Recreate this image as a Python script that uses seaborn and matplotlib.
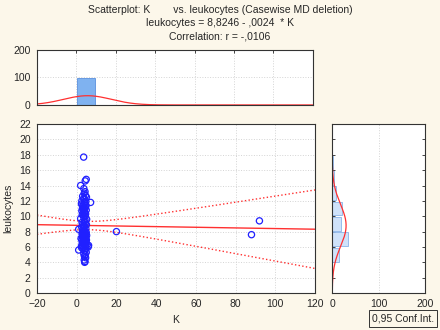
import numpy as np
import pandas as pd
from matplotlib import pyplot as plt
import seaborn as sns

# leukocytes values grouped by band, with the matching K values
leuk = [4.0, 4.1, 4.3, 4.6, 4.8, 5.0, 5.1, 5.3, 5.5, 5.6, 5.7, 5.8, 5.9, 5.95,
        6.0, 6.1, 6.1, 6.2, 6.2, 6.3, 6.4, 6.5, 6.5, 6.6, 6.7, 6.8, 6.9, 6.9, 7.0, 7.0,
        7.1, 7.2, 7.2, 7.3, 7.4, 7.4, 7.5, 7.5, 7.6, 7.7, 7.7, 7.8, 7.8, 7.9, 7.9, 6.3,
        8.0, 8.1, 8.2, 8.3, 8.4, 8.5, 8.6, 8.7, 8.8, 8.9, 9.0, 9.1, 9.2, 9.3, 9.5, 9.6, 9.7, 9.9,
        10.0, 10.1, 10.2, 10.3, 10.4, 10.5, 10.6, 10.7, 10.8, 10.9, 11.0, 11.0, 11.1, 11.2,
        11.3, 11.4, 11.5, 11.6, 11.7, 11.8, 11.8, 11.9,
        12.0, 12.2, 12.3, 12.5, 12.6, 12.7, 13.0, 13.2, 13.6,
        14.0, 14.6, 14.8, 17.7,
        8.0, 7.6, 9.4]
k_vals = [4.0, 4.2, 3.8, 4.5, 3.9, 4.3, 3.6, 4.8, 4.1, 1.0, 3.3, 4.6, 2.5, 3.7,
          5.8, 3.0, 2.4, 6.0, 4.4, 3.5, 4.2, 2.8, 3.9, 4.7, 3.1, 4.0, 2.6, 4.9, 3.4, 4.3,
          2.2, 3.8, 4.6, 2.9, 3.6, 4.1, 5.0, 3.2, 4.5, 2.7, 3.9, 4.4, 3.0, 4.8, 3.5, 5.2,
          3.8, 4.1, 2.9, 1.0, 4.6, 3.3, 2.5, 4.0, 3.6, 4.9, 3.1, 4.4, 2.7, 3.9, 4.2, 5.0, 2.0, 3.5,
          4.3, 3.7, 2.8, 4.5, 3.2, 4.0, 3.9, 2.6, 4.8, 3.4, 4.1, 2.9, 3.6, 4.4,
          3.0, 4.7, 3.3, 2.4, 4.2, 7.0, 3.8, 4.6,
          2.6, 4.1, 3.5, 4.9, 3.0, 4.4, 3.8, 4.2, 3.6,
          2.0, 4.3, 4.8, 3.5,
          20.0, 88.0, 92.0]

title_lines = ["Scatterplot: K        vs. leukocytes (Casewise MD deletion)",
               "leukocytes = 8,8246 - ,0024  * K",
               "Correlation: r = -,0106"]

bg = "#fcf7ea"
red = "#ff3030"
df = pd.DataFrame({"K": k_vals, "leukocytes": leuk})

sns.set_style("white")
plt.rcParams["font.family"] = ["Liberation Sans", "DejaVu Sans"]
plt.rcParams["font.size"] = 7.5

fig = plt.figure(figsize=(4.4, 3.3), dpi=100, facecolor=bg)
ax = fig.add_axes([0.084, 0.112, 0.632, 0.512])
ax_top = fig.add_axes([0.084, 0.682, 0.627, 0.167])
ax_right = fig.add_axes([0.755, 0.112, 0.211, 0.512])

grid_kw = dict(color="#d4d4d4", linestyle=":", linewidth=0.7)

# main scatter
sns.scatterplot(data=df, x="K", y="leukocytes", ax=ax, marker="o", s=20,
                facecolor="none", edgecolor="#2020ff", linewidth=0.9, zorder=3)
slope, inter = np.polyfit(df["K"], df["leukocytes"], 1)
xs = np.linspace(-20, 120, 200)
n = len(df)
resid = df["leukocytes"] - (inter + slope * df["K"])
s_err = np.sqrt((resid ** 2).sum() / (n - 2))
xm = df["K"].mean()
sxx = ((df["K"] - xm) ** 2).sum()
half = 1.984 * s_err * np.sqrt(1 / n + (xs - xm) ** 2 / sxx)
fit = inter + slope * xs
ax.plot(xs, fit, color=red, lw=1.0, zorder=2)
ax.plot(xs, fit + half, color=red, lw=1.0, ls=":", zorder=2)
ax.plot(xs, fit - half, color=red, lw=1.0, ls=":", zorder=2)
ax.set_xlim(-20, 120)
ax.set_ylim(0, 22)
ax.set_xticks(range(-20, 121, 20))
ax.set_yticks(range(0, 23, 2))
ax.grid(True, **grid_kw)
ax.set_xlabel("K")
ax.set_ylabel("leukocytes")

# top histogram of K
sns.histplot(data=df, x="K", bins=np.arange(-20, 130, 10), ax=ax_top,
             color="#7fb2f0", edgecolor="#5a90dd", alpha=1, linewidth=0.6, shrink=0.9)
kx = np.linspace(-20, 120, 300)
kstd = df["K"].std()
ax_top.plot(kx, n * 10 * np.exp(-0.5 * ((kx - xm) / kstd) ** 2) / (kstd * np.sqrt(2 * np.pi)),
            color=red, lw=0.9)
ax_top.set_xlim(-20, 120)
ax_top.set_ylim(0, 200)
ax_top.set_yticks([0, 100, 200])
ax_top.set_xticks(range(-20, 121, 20))
ax_top.set_xticklabels([])
ax_top.grid(True, **grid_kw)
ax_top.set_xlabel("")
ax_top.set_ylabel("")

# right histogram of leukocytes
sns.histplot(data=df, y="leukocytes", bins=np.arange(0, 24, 2), ax=ax_right,
             color="#cfe2fa", edgecolor="#8ab4e8", alpha=1, linewidth=0.6, shrink=0.9)
ly = np.linspace(0, 22, 300)
lm = df["leukocytes"].mean()
lstd = df["leukocytes"].std()
ax_right.plot(n * 2 * np.exp(-0.5 * ((ly - lm) / lstd) ** 2) / (lstd * np.sqrt(2 * np.pi)), ly,
              color=red, lw=0.9)
ax_right.set_ylim(0, 22)
ax_right.set_xlim(0, 200)
ax_right.set_xticks([0, 100, 200])
ax_right.set_yticks(range(0, 23, 2))
ax_right.set_yticklabels([])
ax_right.grid(True, axis="x", **grid_kw)
ax_right.set_xlabel("")
ax_right.set_ylabel("")

for a in (ax, ax_top, ax_right):
    a.set_facecolor("white")
    for sp in a.spines.values():
        sp.set_color("#333333")
        sp.set_linewidth(0.8)
    a.tick_params(length=2.5, width=0.6, pad=2, labelsize=7.5, direction="out")
ax_right.tick_params(axis="y", direction="in", right=True, left=True)
ax_top.tick_params(axis="x", direction="in", top=True, bottom=False)

fig.text(0.5, 0.985, "\n".join(title_lines), ha="center", va="top",
         fontsize=7.5, linespacing=1.4)
fig.text(0.987, 0.035, "0,95 Conf.Int.", ha="right", va="center", fontsize=7.5,
         bbox=dict(boxstyle="square,pad=0.3", facecolor=bg, edgecolor="#333333", lw=0.7))

fig.savefig("out.png", dpi=100, facecolor=bg)
